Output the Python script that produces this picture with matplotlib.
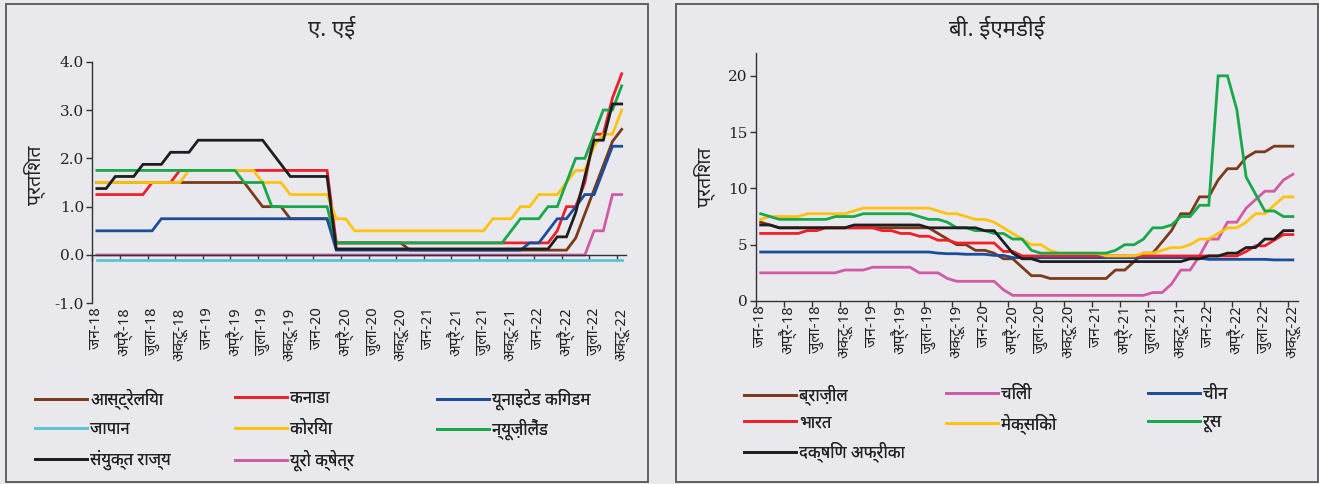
import matplotlib
matplotlib.use("Agg")
import matplotlib.pyplot as plt
from matplotlib import font_manager
from matplotlib.ft2font import FT2Font
from matplotlib.patches import Rectangle
import numpy as np

plt.rcParams['axes.unicode_minus'] = False


def deva_family():
    # look for any installed family that carries Devanagari glyphs
    names = []
    for f in font_manager.fontManager.ttflist:
        try:
            if 0x0915 in FT2Font(f.fname).get_charmap():
                names.append(f.name)
        except Exception:
            continue
    for pref in ("Noto Sans Devanagari", "Lohit Devanagari", "Mangal", "FreeSans"):
        if pref in names:
            return pref
    return names[0] if names else None


deva = deva_family()
FAMS = [deva, 'DejaVu Sans'] if deva else ['DejaVu Sans']
plt.rcParams['font.family'] = FAMS

# ---- data (monthly, Jan-18 .. Oct-22) ----
month_names = ["जन", "अप्रै", "जुला", "अक्टू"]
years = ["18", "19", "20", "21", "22"]
tick_labels = [f"{m}-{y}" for y in years for m in month_names]

# A. AEs
australia = [1.5]*12 + [1.5]*5 + [1.25, 1.0, 1.0, 1.0, 0.75, 0.75, 0.75] \
    + [0.75, 0.75] + [0.25]*8 + [0.1, 0.1] + [0.1]*12 \
    + [0.1]*4 + [0.35, 0.85, 1.35, 1.85, 2.35, 2.6]
canada = [1.25]*6 + [1.5]*3 + [1.75]*3 + [1.75]*12 + [1.75, 1.75] + [0.25]*10 \
    + [0.25]*12 + [0.25, 0.25, 0.5, 1.0, 1.0, 1.5, 2.5, 2.5, 3.25, 3.75]
uk = [0.5]*7 + [0.75]*5 + [0.75]*12 + [0.75, 0.75] + [0.1]*10 + [0.1]*11 + [0.25] \
    + [0.25, 0.5, 0.75, 0.75, 1.0, 1.25, 1.25, 1.75, 2.25, 2.25]
japan = [-0.1]*58
korea = [1.5]*10 + [1.75]*2 + [1.75]*6 + [1.5]*3 + [1.25]*3 \
    + [1.25, 1.25, 0.75, 0.75] + [0.5]*8 + [0.5]*7 + [0.75]*3 + [1.0]*2 \
    + [1.25]*3 + [1.5, 1.75, 1.75, 2.25, 2.5, 2.5, 3.0]
new_zealand = [1.75]*12 + [1.75]*4 + [1.5]*3 + [1.0]*5 + [1.0, 1.0] + [0.25]*10 \
    + [0.25]*9 + [0.5, 0.75, 0.75] + [0.75, 1.0, 1.0, 1.5, 2.0, 2.0, 2.5, 3.0, 3.0, 3.5]
usa = [1.375]*2 + [1.625]*3 + [1.875]*3 + [2.125]*3 + [2.375] \
    + [2.375]*7 + [2.125, 1.875] + [1.625]*3 + [1.625]*2 + [0.125]*10 + [0.125]*12 \
    + [0.125, 0.125, 0.375, 0.375, 0.875, 1.625, 2.375, 2.375, 3.125, 3.125]
euro_area = [0.0]*54 + [0.5, 0.5, 1.25, 1.25]

# B. EMDEs
brazil = [7.0, 6.75] + [6.5]*10 + [6.5]*7 + [6.0, 5.5, 5.0, 5.0, 4.5] \
    + [4.5, 4.25, 3.75, 3.75, 3.0, 2.25, 2.25] + [2.0]*5 \
    + [2.0, 2.0, 2.75, 2.75, 3.5, 4.25, 4.25, 5.25, 6.25, 7.75, 7.75, 9.25] \
    + [9.25, 10.75, 11.75, 11.75, 12.75, 13.25, 13.25, 13.75, 13.75, 13.75]
chile = [2.5]*9 + [2.75]*3 + [3.0]*5 + [2.5]*3 + [2.0] + [1.75]*3 \
    + [1.75, 1.75, 1.0] + [0.5]*9 + [0.5]*6 + [0.75, 0.75, 1.5, 2.75, 2.75, 4.0] \
    + [5.5, 5.5, 7.0, 7.0, 8.25, 9.0, 9.75, 9.75, 10.75, 11.25]
china = [4.35]*12 + [4.35]*7 + [4.25, 4.2, 4.2, 4.15, 4.15] \
    + [4.15, 4.05, 4.05] + [3.85]*9 + [3.85]*11 + [3.8] + [3.7]*7 + [3.65]*3
india = [6.0]*5 + [6.25]*2 + [6.5]*5 \
    + [6.5, 6.25, 6.25, 6.0, 6.0, 5.75, 5.75, 5.4, 5.4, 5.15, 5.15, 5.15] \
    + [5.15, 5.15, 4.4, 4.4] + [4.0]*8 + [4.0]*12 \
    + [4.0]*4 + [4.4, 4.9, 4.9, 5.4, 5.9, 5.9]
mexico = [7.25] + [7.5]*4 + [7.75]*5 + [8.0, 8.25] \
    + [8.25]*7 + [8.0, 7.75, 7.75, 7.5, 7.25] \
    + [7.25, 7.0, 6.5, 6.0, 5.5, 5.0, 5.0, 4.5] + [4.25]*4 \
    + [4.25] + [4.0]*4 + [4.25, 4.25, 4.5, 4.75, 4.75, 5.0, 5.5] \
    + [5.5, 6.0, 6.5, 6.5, 7.0, 7.75, 7.75, 8.5, 9.25, 9.25]
russia = [7.75, 7.5] + [7.25]*6 + [7.5]*3 + [7.75] \
    + [7.75]*5 + [7.5, 7.25, 7.25, 7.0, 6.5, 6.5, 6.25] \
    + [6.25, 6.0, 6.0, 5.5, 5.5, 4.5] + [4.25]*6 \
    + [4.25, 4.25, 4.5, 5.0, 5.0, 5.5, 6.5, 6.5, 6.75, 7.5, 7.5, 8.5] \
    + [8.5, 20.0, 20.0, 17.0, 11.0, 9.5, 8.0, 8.0, 7.5, 7.5]
south_africa = [6.75]*2 + [6.5]*8 + [6.75]*2 + [6.75]*6 + [6.5]*6 \
    + [6.25, 6.25, 5.25, 4.25, 3.75, 3.75] + [3.5]*6 + [3.5]*10 + [3.75]*2 \
    + [4.0, 4.0, 4.25, 4.25, 4.75, 4.75, 5.5, 5.5, 6.25, 6.25]

ae_series = [("आस्ट्रेलिया", australia, '#7B3A1B'),
             ("कनाडा", canada, '#F0202A'),
             ("यूनाइटेड किंगडम", uk, '#1B4D9B'),
             ("जापान", japan, '#5BC5D3'),
             ("कोरिया", korea, '#FFC20E'),
             ("न्यूज़ीलैंड", new_zealand, '#17A84B'),
             ("संयुक्त राज्य", usa, '#1E1E1E'),
             ("यूरो क्षेत्र", euro_area, '#CF5BA6')]
em_series = [("ब्राज़ील", brazil, '#7B3A1B'),
             ("चिली", chile, '#CF5BA6'),
             ("चीन", china, '#1B4D9B'),
             ("भारत", india, '#F0202A'),
             ("मेक्सिको", mexico, '#FFC20E'),
             ("रूस", russia, '#17A84B'),
             ("दक्षिण अफ्रीका", south_africa, '#1E1E1E')]

BG = '#E9E8ED'
W, H = 1319, 484
fig = plt.figure(figsize=(W/100, H/100), dpi=100, facecolor=BG)

# panel frames
for x0, y0, x1, y1 in [(6, 4, 648, 482), (676, 4, 1317.5, 481.5)]:
    fig.add_artist(Rectangle((x0/W, 1-y1/H), (x1-x0)/W, (y1-y0)/H,
                             transform=fig.transFigure, fill=False,
                             ec='#555555', lw=1.3))

ax1 = fig.add_axes([92.3/W, 1-303.3/H, 534/W, 241.6/H])
ax2 = fig.add_axes([756/W, 1-301/H, 541.5/W, 247.7/H])

n = len(australia)
xpos = np.arange(n) + 0.5
bounds = np.arange(0, n, 3)


def style(ax, series, ylim, yticks, ylabels, zero_at):
    ax.set_facecolor(BG)
    for name, vals, col in series:
        ax.plot(xpos, vals, color=col, lw=2.0, label=name, solid_joinstyle='miter')
    ax.set_xlim(0, n)
    ax.set_ylim(*ylim)
    for s in ('top', 'right'):
        ax.spines[s].set_visible(False)
    for s in ('left', 'bottom'):
        ax.spines[s].set_color('#333333')
        ax.spines[s].set_linewidth(1.0)
    ax.spines['bottom'].set_position(('data', zero_at))
    ax.set_xticks(bounds)
    ax.tick_params(axis='x', direction='out', length=4, width=1, color='#333333',
                   labelbottom=False)
    ax.set_yticks(yticks, labels=ylabels, fontfamily='DejaVu Serif', fontsize=11,
                  color='#222222')
    ax.tick_params(axis='y', direction='out', length=4, width=1, color='#333333', pad=2)
    sec = ax.secondary_xaxis('bottom')
    sec.set_xticks(bounds + 0.5, labels=tick_labels, rotation=90, fontsize=11,
                   color='#222222')
    sec.tick_params(length=0, pad=3)
    sec.spines['bottom'].set_visible(False)
    ax.set_ylabel("प्रतिशत", fontsize=14, color='#222222')


style(ax1, ae_series, (-1, 4), [-1, 0, 1, 2, 3, 4],
      ["-1.0", "0.0", "1.0", "2.0", "3.0", "4.0"], 0)
style(ax2, em_series, (0, 22), [0, 5, 10, 15, 20],
      ["0", "5", "10", "15", "20"], 0)
ax1.yaxis.set_label_coords(-0.088, 0.53)
ax2.yaxis.set_label_coords(-0.075, 0.50)

fig.text(332/W, 1-28/H, "ए. एई", ha='center', va='center', fontsize=16,
         fontweight='bold', color='#222222')
fig.text(997/W, 1-28/H, "बी. ईएमडीई", ha='center', va='center', fontsize=16,
         fontweight='bold', color='#222222')


def grid_legend(ax, xs, ys):
    # one small legend per entry so rows and columns sit on a fixed grid
    handles, labels = ax.get_legend_handles_labels()
    ncol = len(xs)
    for i, (h, lab) in enumerate(zip(handles, labels)):
        x, y = xs[i % ncol], ys[i // ncol]
        leg = fig.legend([h], [lab], loc='center left',
                         bbox_to_anchor=(x/W, 1-y/H), frameon=False,
                         borderpad=0, borderaxespad=0, handlelength=3.1,
                         handletextpad=0.2, fontsize=12, labelcolor='#222222')
        fig.add_artist(leg)


grid_legend(ax1, [35, 235, 437], [399, 429.5, 460])
grid_legend(ax2, [744, 946, 1148], [395, 423.3, 451.7])

fig.savefig("out.png", dpi=100, facecolor=BG)
